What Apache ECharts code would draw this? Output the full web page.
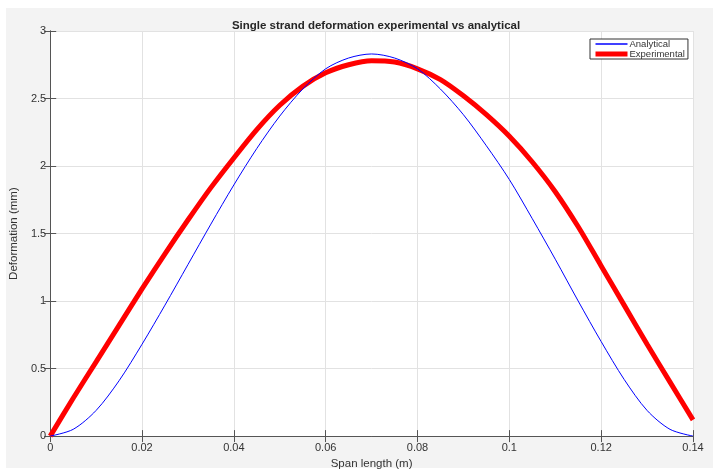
<!DOCTYPE html>
<html>
<head>
<meta charset="utf-8">
<title>Single strand deformation</title>
<script src="https://cdn.jsdelivr.net/npm/echarts@6/dist/echarts.min.js"></script>
<style>
  html, body { margin: 0; padding: 0; background: #fff; }
  #panel { position: absolute; left: 6px; top: 8px; width: 707px; height: 460px; background: #f3f3f3; }
  #chart { position: absolute; left: 0; top: 0; width: 720px; height: 475px; }
</style>
</head>
<body>
<div id="panel"></div>
<div id="chart"></div>
<script>
// span positions (m), every 5 mm
const spanX = [0, 0.005, 0.01, 0.015, 0.02, 0.025, 0.03, 0.035, 0.04, 0.045,
  0.05, 0.055, 0.06, 0.065, 0.07, 0.075, 0.08, 0.085, 0.09, 0.095,
  0.1, 0.105, 0.11, 0.115, 0.12, 0.125, 0.13, 0.135, 0.14]

// deformation (mm)
const analytical = [0, 0.05, 0.19, 0.41, 0.68, 0.97, 1.27, 1.57, 1.86, 2.13,
  2.37, 2.57, 2.72, 2.80, 2.83, 2.80, 2.72, 2.57, 2.38, 2.15,
  1.90, 1.61, 1.31, 1.00, 0.70, 0.42, 0.19, 0.05, 0]

const experimental = [0, 0.28, 0.55, 0.82, 1.09, 1.35, 1.60, 1.84, 2.06, 2.27,
  2.45, 2.59, 2.69, 2.75, 2.78, 2.77, 2.72, 2.64, 2.52, 2.38,
  2.22, 2.03, 1.81, 1.55, 1.26, 0.97, 0.68, 0.40, 0.12]

const xTicks = ['0', '0.02', '0.04', '0.06', '0.08', '0.1', '0.12', '0.14']
const yTicks = ['0', '0.5', '1', '1.5', '2', '2.5', '3']

const font = 'Liberation Sans, Arial, Helvetica, sans-serif'
const axisColor = '#555'
const textColor = '#333'

const pairs = vals => spanX.map((x, i) => [x, vals[i]])

const chart = echarts.init(document.getElementById('chart'))

// top and right edges of the box, ticks only
const frameAxis = {
  axisLine: { show: true, lineStyle: { color: axisColor, width: 1 } },
  axisTick: { show: true, inside: true, length: 6, lineStyle: { color: axisColor } },
  splitLine: { show: false },
  axisLabel: { show: false }
}

chart.setOption({
  backgroundColor: 'transparent',
  animation: false,
  textStyle: { fontFamily: font },
  title: {
    text: 'Single strand deformation experimental vs analytical',
    left: 371,
    top: 15,
    textAlign: 'center',
    textStyle: { fontSize: 11.5, fontWeight: 'bold', color: '#262626', fontFamily: font }
  },
  legend: {
    left: 590,
    top: 39,
    orient: 'vertical',
    itemWidth: 32,
    itemHeight: 12,
    itemGap: 0,
    padding: [0, 3, 0, 3],
    backgroundColor: '#fff',
    borderColor: '#333',
    borderWidth: 1,
    borderRadius: 0,
    itemStyle: { opacity: 0 },
    textStyle: { fontSize: 9.5, color: textColor, fontFamily: font, padding: [0, 0, 0, -3] },
    data: [
      { name: 'Analytical', lineStyle: { width: 1.5 } },
      { name: 'Experimental', lineStyle: { width: 5 } }
    ]
  },
  grid: {
    left: 48,
    top: 31,
    width: 645,
    height: 406,
    show: true,
    backgroundColor: '#fff',
    borderWidth: 0
  },
  xAxis: [{
    type: 'value',
    min: 0,
    max: 0.14,
    interval: 0.02,
    name: 'Span length (m)',
    nameLocation: 'middle',
    nameGap: 16,
    nameTextStyle: { fontSize: 11.5, color: textColor },
    axisLine: { show: true, onZero: false, lineStyle: { color: axisColor, width: 1 } },
    axisTick: { show: true, inside: true, length: 6, lineStyle: { color: axisColor } },
    axisLabel: {
      fontSize: 11, color: textColor, margin: 6,
      formatter: v => xTicks[Math.round(v / 0.02)]
    },
    splitLine: { show: true, lineStyle: { color: '#e2e2e2', width: 1 } }
  }, Object.assign({
    type: 'value', position: 'top', min: 0, max: 0.14, interval: 0.02
  }, frameAxis)],
  yAxis: [{
    type: 'value',
    min: 0,
    max: 3,
    interval: 0.5,
    name: 'Deformation (mm)',
    nameLocation: 'middle',
    nameGap: 22,
    nameTextStyle: { fontSize: 11.5, color: textColor },
    axisLine: { show: true, onZero: false, lineStyle: { color: axisColor, width: 1 } },
    axisTick: { show: true, inside: true, length: 6, lineStyle: { color: axisColor } },
    axisLabel: {
      fontSize: 11, color: textColor, margin: 4,
      formatter: v => yTicks[Math.round(v / 0.5)]
    },
    splitLine: { show: true, lineStyle: { color: '#e2e2e2', width: 1 } }
  }, Object.assign({
    type: 'value', position: 'right', min: 0, max: 3, interval: 0.5
  }, frameAxis)],
  series: [{
    name: 'Analytical',
    type: 'line',
    data: pairs(analytical),
    smooth: 0.3,
    symbol: 'none',
    color: '#0000ff',
    lineStyle: { color: '#0000ff', width: 1 },
    z: 3
  }, {
    name: 'Experimental',
    type: 'line',
    data: pairs(experimental),
    smooth: 0.3,
    symbol: 'none',
    color: '#ff0000',
    lineStyle: { color: '#ff0000', width: 5 },
    z: 2
  }]
})
</script>
</body>
</html>
